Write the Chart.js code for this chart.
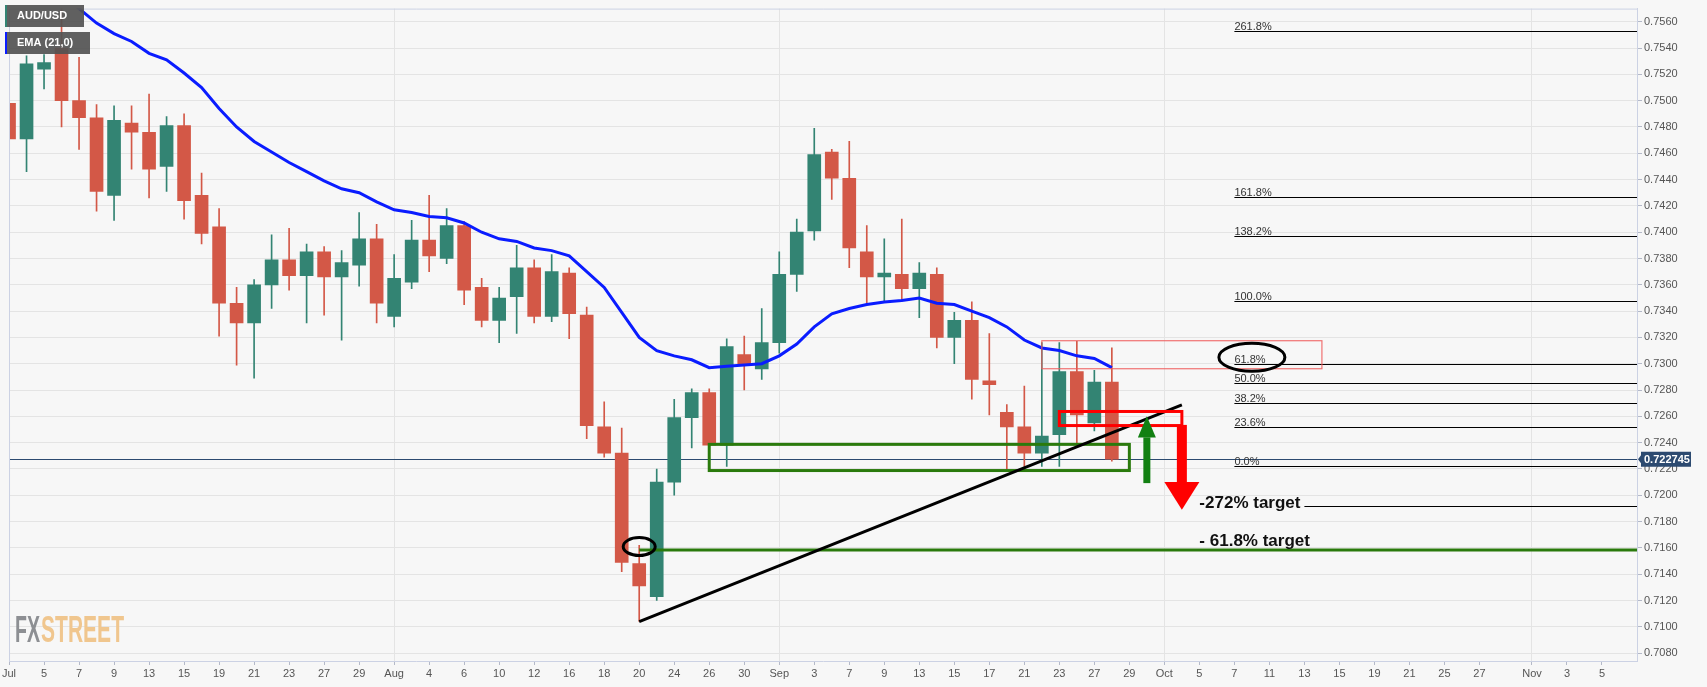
<!DOCTYPE html>
<html>
<head>
<meta charset="utf-8">
<title>AUD/USD daily</title>
<script src="https://cdn.jsdelivr.net/npm/chart.js@4.4.0/dist/chart.umd.min.js"></script>
<style>
  html, body { margin: 0; padding: 0; background: #f7f7f7; }
  canvas { display: block; }
</style>
</head>
<body>
<canvas id="chart" width="1707" height="687"></canvas>
<script>
// trading days shown on the x axis (Jul 1 -> Nov 9)
const julDays = [1, 2, 5, 6, 7, 8, 9, 12, 13, 14, 15, 16, 19, 20, 21, 22, 23, 26, 27, 28, 29, 30];
const augDays = [2, 3, 4, 5, 6, 9, 10, 11, 12, 13, 16, 17, 18, 19, 20, 23, 24, 25, 26, 27, 30, 31];
const sepDays = [1, 2, 3, 6, 7, 8, 9, 10, 13, 14, 15, 16, 17, 20, 21, 22, 23, 24, 27, 28, 29, 30];
const octDays = [1, 4, 5, 6, 7, 8, 11, 12, 13, 14, 15, 18, 19, 20, 21, 22, 25, 26, 27, 28, 29];
const novDays = [1, 2, 3, 4, 5, 8, 9];

const tickDates = ['Jul 1', 'Jul 5', 'Jul 7', 'Jul 9', 'Jul 13', 'Jul 15', 'Jul 19', 'Jul 21', 'Jul 23', 'Jul 27', 'Jul 29',
  'Aug 2', 'Aug 4', 'Aug 6', 'Aug 10', 'Aug 12', 'Aug 16', 'Aug 18', 'Aug 20', 'Aug 24', 'Aug 26', 'Aug 30',
  'Sep 1', 'Sep 3', 'Sep 7', 'Sep 9', 'Sep 13', 'Sep 15', 'Sep 17', 'Sep 21', 'Sep 23', 'Sep 27', 'Sep 29',
  'Oct 1', 'Oct 5', 'Oct 7', 'Oct 11', 'Oct 13', 'Oct 15', 'Oct 19', 'Oct 21', 'Oct 25', 'Oct 27',
  'Nov 1', 'Nov 3', 'Nov 5'];
const tickText = ['Jul', '5', '7', '9', '13', '15', '19', '21', '23', '27', '29',
  'Aug', '4', '6', '10', '12', '16', '18', '20', '24', '26', '30',
  'Sep', '3', '7', '9', '13', '15', '17', '21', '23', '27', '29',
  'Oct', '5', '7', '11', '13', '15', '19', '21', '25', '27',
  'Nov', '3', '5'];
const monthTicks = ['Aug 2', 'Sep 1', 'Oct 1', 'Nov 1'];

const priceTicks = [0.7080, 0.7100, 0.7120, 0.7140, 0.7160, 0.7180, 0.7200, 0.7220, 0.7240, 0.7260, 0.7280,
  0.7300, 0.7320, 0.7340, 0.7360, 0.7380, 0.7400, 0.7420, 0.7440, 0.7460, 0.7480, 0.7500, 0.7520, 0.7540, 0.7560];

// daily candles, Jul 1 -> Sep 28
const opens = [0.7498, 0.7471, 0.7524, 0.7540, 0.7500, 0.7487, 0.7428, 0.7483, 0.7476, 0.7450,
  0.7481, 0.7428, 0.7404, 0.7346, 0.7331, 0.7360, 0.7379, 0.7367, 0.7385, 0.7366,
  0.7375, 0.7395, 0.7336, 0.7362, 0.7394, 0.7380, 0.7405, 0.7358, 0.7333, 0.7351,
  0.7373, 0.7336, 0.7369, 0.7337, 0.7252, 0.7232, 0.7148, 0.7123, 0.7210, 0.7259,
  0.7278, 0.7238, 0.7307, 0.7296, 0.7316, 0.7368, 0.7401, 0.7461, 0.7441, 0.7385,
  0.7366, 0.7368, 0.7357, 0.7368, 0.7320, 0.7333, 0.7287, 0.7263, 0.7252, 0.7232,
  0.7246, 0.7294, 0.7255, 0.7286];
const highs = [0.7508, 0.7534, 0.7535, 0.7575, 0.7533, 0.7497, 0.7496, 0.7496, 0.7505, 0.7488,
  0.7490, 0.7445, 0.7418, 0.7358, 0.7364, 0.7398, 0.7403, 0.7391, 0.7389, 0.7386,
  0.7415, 0.7406, 0.7383, 0.7409, 0.7428, 0.7418, 0.7408, 0.7365, 0.7358, 0.7390,
  0.7379, 0.7383, 0.7373, 0.7343, 0.7271, 0.7251, 0.7162, 0.7220, 0.7273, 0.7281,
  0.7281, 0.7319, 0.7321, 0.7342, 0.7385, 0.7410, 0.7479, 0.7463, 0.7469, 0.7405,
  0.7395, 0.7410, 0.7377, 0.7373, 0.7339, 0.7347, 0.7323, 0.7269, 0.7283, 0.7316,
  0.7316, 0.7317, 0.7295, 0.7312];
const lows = [0.7460, 0.7446, 0.7509, 0.7480, 0.7463, 0.7416, 0.7409, 0.7448, 0.7426, 0.7431,
  0.7410, 0.7391, 0.7321, 0.7299, 0.7289, 0.7342, 0.7356, 0.7331, 0.7337, 0.7318,
  0.7359, 0.7331, 0.7328, 0.7357, 0.7370, 0.7376, 0.7345, 0.7328, 0.7316, 0.7323,
  0.7331, 0.7332, 0.7319, 0.7243, 0.7229, 0.7142, 0.7104, 0.7120, 0.7200, 0.7236,
  0.7238, 0.7222, 0.7280, 0.7288, 0.7308, 0.7355, 0.7394, 0.7425, 0.7373, 0.7345,
  0.7347, 0.7348, 0.7335, 0.7312, 0.7300, 0.7273, 0.7261, 0.7220, 0.7222, 0.7222,
  0.7222, 0.7238, 0.7249, 0.7226];
const closes = [0.7471, 0.7528, 0.7529, 0.7500, 0.7487, 0.7431, 0.7485, 0.7476, 0.7448, 0.7481,
  0.7424, 0.7399, 0.7346, 0.7331, 0.7360, 0.7379, 0.7367, 0.7385, 0.7366, 0.7377,
  0.7395, 0.7346, 0.7365, 0.7394, 0.7382, 0.7405, 0.7356, 0.7333, 0.7350, 0.7373,
  0.7336, 0.7370, 0.7338, 0.7253, 0.7232, 0.7149, 0.7131, 0.7210, 0.7259, 0.7278,
  0.7238, 0.7313, 0.7299, 0.7316, 0.7368, 0.7400, 0.7459, 0.7441, 0.7388, 0.7366,
  0.7369, 0.7357, 0.7369, 0.7320, 0.7333, 0.7288, 0.7284, 0.7252, 0.7232, 0.7245,
  0.7294, 0.7261, 0.7286, 0.72275];
const ema21 = [0.7615, 0.7603, 0.7592, 0.7581, 0.7570, 0.7559, 0.7551, 0.7545, 0.7536, 0.7531,
  0.7521, 0.7510, 0.7494, 0.7480, 0.7469, 0.7461, 0.7453, 0.7446, 0.7439, 0.7433,
  0.7430, 0.7423, 0.7417, 0.7415, 0.7412, 0.7411, 0.7407, 0.7400, 0.7395, 0.7393,
  0.7388, 0.7386, 0.7382, 0.7370, 0.7358, 0.7339, 0.7320, 0.7310, 0.7306, 0.7303,
  0.7297, 0.7298, 0.7299, 0.7300, 0.7306, 0.7315, 0.7328, 0.7338, 0.7342, 0.7345,
  0.7347, 0.7348, 0.7350, 0.7346, 0.7345, 0.7340, 0.7335, 0.7328, 0.7318, 0.7312,
  0.7310, 0.7306, 0.7304, 0.7297];
const lastPrice = 0.722745;

// fibonacci levels drawn on the right
const fibNames = ['261.8%', '161.8%', '138.2%', '100.0%', '61.8%', '50.0%', '38.2%', '23.6%', '0.0%'];
const fibLevels = [0.7553, 0.7427, 0.7397, 0.7348, 0.7300, 0.7285, 0.7270, 0.7252, 0.7222];

// drawn annotations, in [bar index, price]
const trendLine = [[36, 0.7104], [67, 0.72687]];
const target272 = 0.7192;
const target618 = 0.71584;
const greenBox = [[40, 0.72387], [64, 0.72188]];
const redBox = [[60, 0.72637], [67, 0.72530]];
const fibBox = [[59, 0.73175], [75, 0.72962]];
const circleLow = [36, 0.7161];
const circleFib = [71, 0.7305];
const upArrow = [65, 0.7260, 0.7244, 0.7210];
const downArrow = [67, 0.72535, 0.7210, 0.7189];

const GREEN = '#338473';
const RED = '#d35847';
const SANS = '"Liberation Sans", Arial, sans-serif';

const dates = [];
[['Jul', julDays], ['Aug', augDays], ['Sep', sepDays], ['Oct', octDays], ['Nov', novDays]]
  .forEach(([m, days]) => days.forEach(d => dates.push(m + ' ' + d)));

const candleColors = opens.map((o, i) => closes[i] >= o ? GREEN : RED);

const drawings = {
  id: 'drawings',
  beforeDraw(chart) {
    const ctx = chart.ctx;
    ctx.save();
    ctx.fillStyle = '#f7f7f7';
    ctx.fillRect(0, 0, chart.width, chart.height);
    ctx.restore();
  },
  beforeDatasetsDraw(chart) {
    const { ctx, chartArea: a, scales: { y } } = chart;
    ctx.save();
    // watermark
    ctx.font = 'bold 37px ' + SANS;
    ctx.textBaseline = 'alphabetic';
    const drawPart = (txt, left, width, color) => {
      const w = ctx.measureText(txt).width;
      ctx.save();
      ctx.translate(left, a.bottom - 19);
      ctx.scale(width / w, 1);
      ctx.fillStyle = color;
      ctx.fillText(txt, 0, 0);
      ctx.restore();
    };
    drawPart('FX', 15, 25, '#8d8f93');
    drawPart('STREET', 41, 83, '#f0c68e');
    // last price line
    ctx.strokeStyle = '#2c4a70';
    ctx.lineWidth = 1;
    const py = Math.round(y.getPixelForValue(lastPrice)) + 0.5;
    ctx.beginPath();
    ctx.moveTo(a.left, py);
    ctx.lineTo(a.right, py);
    ctx.stroke();
    ctx.restore();
  },
  afterDatasetsDraw(chart) {
    const { ctx, chartArea: a, scales: { x, y } } = chart;
    const px = v => x.getPixelForValue(v);
    const py = v => y.getPixelForValue(v);
    ctx.save();
    ctx.beginPath();
    ctx.rect(a.left, a.top, a.right - a.left, a.bottom - a.top);
    ctx.clip();

    // fib levels
    ctx.strokeStyle = '#000';
    ctx.lineWidth = 1;
    ctx.fillStyle = '#333';
    ctx.font = '11px ' + SANS;
    ctx.textBaseline = 'alphabetic';
    fibLevels.forEach((v, i) => {
      const yy = Math.round(py(v)) + 0.5;
      ctx.beginPath();
      ctx.moveTo(px(70), yy);
      ctx.lineTo(a.right, yy);
      ctx.stroke();
      ctx.fillText(fibNames[i], px(70), yy - 2);
    });

    // fib zone box (thin)
    ctx.strokeStyle = 'rgba(240, 90, 90, 0.85)';
    ctx.lineWidth = 1.2;
    ctx.strokeRect(px(fibBox[0][0]), py(fibBox[0][1]), px(fibBox[1][0]) - px(fibBox[0][0]), py(fibBox[1][1]) - py(fibBox[0][1]));

    // support box
    ctx.strokeStyle = '#2a7a0c';
    ctx.lineWidth = 3;
    ctx.strokeRect(px(greenBox[0][0]), py(greenBox[0][1]), px(greenBox[1][0]) - px(greenBox[0][0]), py(greenBox[1][1]) - py(greenBox[0][1]));

    // -61.8% target line
    ctx.beginPath();
    ctx.moveTo(px(36), py(target618));
    ctx.lineTo(a.right, py(target618));
    ctx.stroke();

    // trend line
    ctx.strokeStyle = '#000';
    ctx.lineWidth = 3;
    ctx.beginPath();
    ctx.moveTo(px(trendLine[0][0]), py(trendLine[0][1]));
    ctx.lineTo(px(trendLine[1][0]), py(trendLine[1][1]));
    ctx.stroke();

    // red box
    ctx.strokeStyle = '#ff0000';
    ctx.lineWidth = 3;
    ctx.strokeRect(px(redBox[0][0]), py(redBox[0][1]), px(redBox[1][0]) - px(redBox[0][0]), py(redBox[1][1]) - py(redBox[0][1]));

    // arrows
    const arrow = (spec, shaft, head, color) => {
      const [i, start, neck, tip] = spec;
      const cx = px(i);
      ctx.fillStyle = color;
      ctx.fillRect(cx - shaft / 2, Math.min(py(start), py(neck)), shaft, Math.abs(py(neck) - py(start)) + 1);
      ctx.beginPath();
      ctx.moveTo(cx - head / 2, py(neck));
      ctx.lineTo(cx + head / 2, py(neck));
      ctx.lineTo(cx, py(tip));
      ctx.closePath();
      ctx.fill();
    };
    arrow([upArrow[0], upArrow[3], upArrow[2], upArrow[1]], 7, 18, '#128012');
    arrow(downArrow, 10, 35, '#ff0000');

    // -272% target line
    ctx.strokeStyle = '#000';
    ctx.lineWidth = 1;
    const ty = Math.round(py(target272)) + 0.5;
    ctx.beginPath();
    ctx.moveTo(px(74), ty);
    ctx.lineTo(a.right, ty);
    ctx.stroke();

    ctx.fillStyle = '#111';
    ctx.font = 'bold 17px ' + SANS;
    ctx.fillText('-272% target', px(68), ty + 1);
    ctx.fillText('- 61.8% target', px(68), py(target618) - 4);

    // circles
    ctx.strokeStyle = '#000';
    ctx.lineWidth = 3;
    ctx.beginPath();
    ctx.ellipse(px(circleLow[0]), py(circleLow[1]), 16, 9, 0, 0, Math.PI * 2);
    ctx.stroke();
    ctx.beginPath();
    ctx.ellipse(px(circleFib[0]), py(circleFib[1]), 33, 14, 0, 0, Math.PI * 2);
    ctx.stroke();
    ctx.restore();
  },
  afterDraw(chart) {
    const { ctx, chartArea: a, scales: { y } } = chart;
    ctx.save();
    // frame
    ctx.strokeStyle = '#ccd2e4';
    ctx.lineWidth = 1;
    ctx.beginPath();
    ctx.moveTo(a.left + 0.5, a.bottom);
    ctx.lineTo(a.left + 0.5, a.top + 0.5);
    ctx.lineTo(a.right, a.top + 0.5);
    ctx.stroke();

    // series labels
    const tag = (txt, top, w, stripe) => {
      ctx.fillStyle = 'rgba(82, 82, 82, 0.92)';
      ctx.fillRect(5, top, w, 22);
      ctx.fillStyle = stripe;
      ctx.fillRect(5, top, 2, 22);
      ctx.fillStyle = '#fff';
      ctx.font = 'bold 11px ' + SANS;
      ctx.textBaseline = 'middle';
      ctx.fillText(txt, 17, top + 11);
    };
    tag('AUD/USD', 5, 79, GREEN);
    tag('EMA (21,0)', 32, 85, '#0a1cff');

    // last price tag
    const py = y.getPixelForValue(lastPrice);
    ctx.fillStyle = '#2c4a70';
    ctx.beginPath();
    ctx.moveTo(a.right + 1, py);
    ctx.lineTo(a.right + 4, py - 4);
    ctx.lineTo(a.right + 4, py - 7.5);
    ctx.lineTo(a.right + 54, py - 7.5);
    ctx.lineTo(a.right + 54, py + 7.5);
    ctx.lineTo(a.right + 4, py + 7.5);
    ctx.lineTo(a.right + 4, py + 4);
    ctx.closePath();
    ctx.fill();
    ctx.fillStyle = '#fff';
    ctx.font = 'bold 11px ' + SANS;
    ctx.textBaseline = 'middle';
    ctx.fillText(lastPrice.toFixed(6), a.right + 7, py + 0.5);
    ctx.restore();
  }
};

new Chart(document.getElementById('chart'), {
  type: 'bar',
  data: {
    labels: dates,
    datasets: [
      {
        type: 'line',
        label: 'EMA (21,0)',
        data: ema21,
        borderColor: '#0a1cff',
        borderWidth: 3,
        pointRadius: 0,
        tension: 0,
        order: 0
      },
      {
        label: 'Body',
        data: opens.map((o, i) => [o, closes[i]]),
        backgroundColor: candleColors,
        barThickness: 13,
        minBarLength: 1,
        grouped: false,
        order: 1
      },
      {
        label: 'Wick',
        data: lows.map((l, i) => [l, highs[i]]),
        backgroundColor: candleColors,
        barThickness: 1,
        grouped: false,
        order: 2
      }
    ]
  },
  options: {
    responsive: false,
    animation: false,
    events: [],
    devicePixelRatio: 1,
    layout: { autoPadding: false, padding: 0 },
    plugins: {
      legend: { display: false },
      tooltip: { enabled: false }
    },
    scales: {
      x: {
        offset: false,
        grid: {
          offset: false,
          color: ctx => ctx.tick && monthTicks.includes(dates[ctx.tick.value]) ? '#e4e4e4' : 'rgba(0,0,0,0)',
          tickColor: ctx => ctx.tick && tickDates.includes(dates[ctx.tick.value]) ? '#b4b9c8' : 'rgba(0,0,0,0)',
          tickLength: 4
        },
        border: { color: '#ccd2e4' },
        ticks: {
          autoSkip: false,
          maxRotation: 0,
          padding: 2,
          color: '#555',
          font: { family: SANS, size: 11 },
          callback: function (value) {
            const k = tickDates.indexOf(dates[value]);
            return k >= 0 ? tickText[k] : '';
          }
        },
        afterFit: s => { s.height = 26; }
      },
      y: {
        position: 'right',
        min: 0.7074,
        max: 0.7570,
        afterBuildTicks: s => { s.ticks = priceTicks.map(v => ({ value: v })); },
        grid: { color: '#e4e4e4', tickColor: '#b4b9c8', tickLength: 5 },
        border: { color: '#ccd2e4' },
        ticks: {
          padding: 2,
          color: '#555',
          font: { family: SANS, size: 11 },
          callback: v => v.toFixed(4)
        },
        afterFit: s => { s.width = 70; }
      }
    }
  },
  plugins: [drawings]
});
</script>
</body>
</html>
